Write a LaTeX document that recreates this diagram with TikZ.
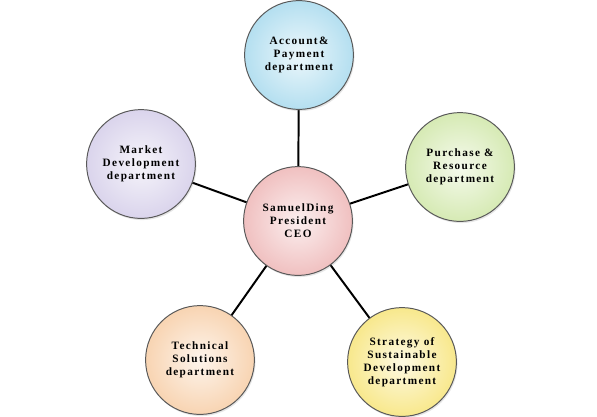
\documentclass[tikz,border=0pt]{standalone}
\usepackage{fontspec}
\newfontfamily\deptfont[LetterSpace=12]{Liberation Serif}
\usetikzlibrary{shadows}

\definecolor{acctC}{RGB}{180,223,240}
\definecolor{ceoC}{RGB}{240,192,192}
\definecolor{purchC}{RGB}{214,234,180}
\definecolor{marketC}{RGB}{218,212,236}
\definecolor{stratC}{RGB}{248,232,140}
\definecolor{techC}{RGB}{248,212,178}

\begin{document}
\begin{tikzpicture}[x=0.025cm, y=-0.025cm,
  dept/.style={circle, draw=black!65, line width=0.7pt, minimum size=2.72cm,
    inner sep=0pt, align=center, shading=radial,
    drop shadow={opacity=0.2, shadow xshift=0.8pt, shadow yshift=-1.2pt},
    font=\deptfont\bfseries\fontsize{8}{9.2}\selectfont},
  link/.style={line width=1.4pt, black}]
\path[use as bounding box] (0,0) rectangle (597,416);
% connectors first, circles on top
\coordinate (c0) at (298,221);
\coordinate (c1) at (299,55);
\coordinate (c2) at (460,167);
\coordinate (c3) at (141,164);
\coordinate (c4) at (402,362);
\coordinate (c5) at (200,360);
\draw[link] (c0) -- (c1);
\draw[link] (c0) -- (c2);
\draw[link] (c0) -- (c3);
\draw[link] (c0) -- (c4);
\draw[link] (c0) -- (c5);
% department circles
\node[dept, inner color=acctC!25!white, outer color=acctC] (acct) at (c1) {Account\&\\Payment\\department};
\node[dept, inner color=purchC!25!white, outer color=purchC] (purch) at (c2) {Purchase \&\\Resource\\department};
\node[dept, inner color=marketC!25!white, outer color=marketC] (market) at (c3) {Market\\Development\\department};
\node[dept, inner color=stratC!25!white, outer color=stratC] (strat) at (c4) {Strategy of\\Sustainable\\Development\\department};
\node[dept, inner color=techC!25!white, outer color=techC] (tech) at (c5) {Technical\\Solutions\\department};
\node[dept, inner color=ceoC!25!white, outer color=ceoC] (ceo) at (c0) {SamuelDing\\President\\CEO};
\end{tikzpicture}
\end{document}
